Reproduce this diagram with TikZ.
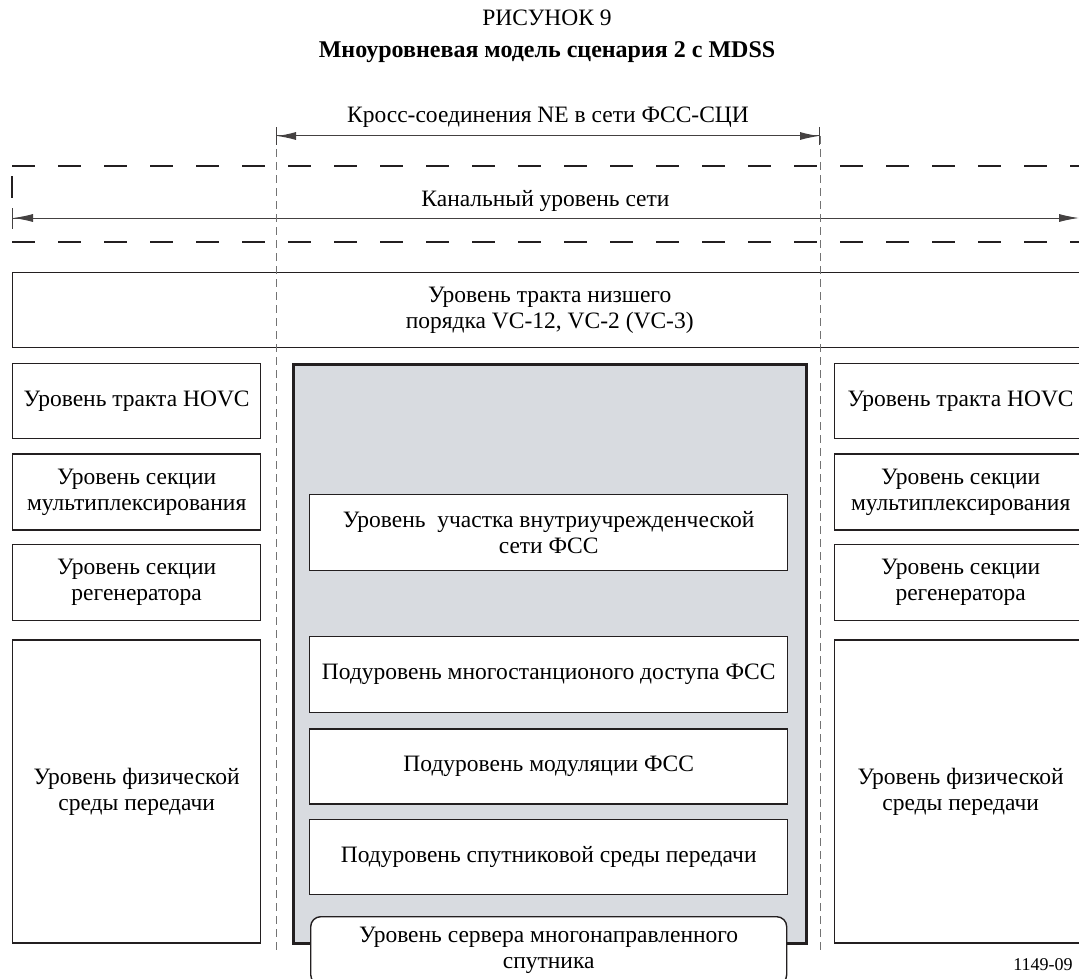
\documentclass[tikz,border=0pt]{standalone}
\usepackage{fontspec}
\setmainfont{Liberation Serif}
\usetikzlibrary{positioning,arrows.meta}
\definecolor{panel}{RGB}{216,219,224}
\definecolor{ink}{RGB}{35,31,32}

\begin{document}
\begin{tikzpicture}[x=1pt,y=-1pt]
		\tikzset{lvl/.style={draw=ink,line width=1.4pt,fill=white,align=center,inner sep=0pt,font=\fontsize{23.5}{26}\selectfont},
			txt/.style={inner sep=0pt,font=\fontsize{23.5}{26}\selectfont},
			com/.style={draw=ink!85,line width=1pt},
			cut/.style={draw=black!55,line width=1pt,dash pattern=on 8pt off 5pt},
			chan/.style={draw=ink,line width=2pt,dash pattern=on 23pt off 23pt}}
		\useasboundingbox (0,0) rectangle (1079,979);

		\node[txt] (fig) at (547,18) {РИСУНОК 9};
		\node[txt,font=\fontsize{24}{26}\selectfont\bfseries] (title) at (547,52) {Мноуровневая модель сценария 2 с MDSS};

		% channel layer
		\coordinate (chtl) at (12,166);
		\coordinate (chtr) at (1090,166);
		\coordinate (chbl) at (12,242);
		\coordinate (chbr) at (1090,242);
		\draw[chan] (chtl) -- (chtr);
		\draw[chan] (chbl) -- (chbr);
		\draw[chan,dash pattern=on 22pt off 80pt,dash phase=92pt] (chtl) -- (chbl);
		\coordinate (chl) at (12,218);
		\coordinate (chr) at (1079,218);
		\draw[com,{Bar[width=21pt]Latex[length=20pt,width=8pt]}-{Latex[length=20pt,width=8pt]}] (chl) -- (chr) node[txt,midway,above=6pt] (chlbl) {Канальный уровень сети};

		% lower order path
		\node[lvl,minimum width=1074pt,minimum height=75pt,anchor=north west] (lo) at (12,272) {Уровень тракта низшего\\порядка VC-12, VC-2 (VC-3)};

		% left side
		\node[lvl,minimum width=248pt,minimum height=75pt,anchor=north west] (hovcL) at (12,363) {Уровень тракта HOVC};
		\node[lvl,minimum width=248pt,minimum height=76pt,below=14pt of hovcL] (muxL) {Уровень секции\\мультиплексирования};
		\node[lvl,minimum width=248pt,minimum height=76pt,below=13pt of muxL] (regL) {Уровень секции\\регенератора};
		\node[lvl,minimum width=248pt,minimum height=303pt,below=18pt of regL] (physL) {Уровень физической\\среды передачи};

		% right side
		\node[lvl,minimum width=252pt,minimum height=75pt,anchor=north west] (hovcR) at (834,363) {Уровень тракта HOVC};
		\node[lvl,minimum width=252pt,minimum height=76pt,below=14pt of hovcR] (muxR) {Уровень секции\\мультиплексирования};
		\node[lvl,minimum width=252pt,minimum height=76pt,below=13pt of muxR] (regR) {Уровень секции\\регенератора};
		\node[lvl,minimum width=252pt,minimum height=303pt,below=18pt of regR] (physR) {Уровень физической\\среды передачи};

		% NE in the FSS-SDH network
		\node[draw=ink,line width=2.5pt,fill=panel,minimum width=513pt,minimum height=579pt,anchor=north west] (ne) at (292,363) {};
		\node[lvl,minimum width=478pt,minimum height=76pt,anchor=north west] (site) at (309,494) {Уровень\ \ участка внутриучрежденческой\\сети ФСС};
		\node[lvl,minimum width=478pt,minimum height=76pt,anchor=north west] (msa) at (309,636) {Подуровень многостанционого доступа ФСС};
		\node[lvl,minimum width=478pt,minimum height=75pt,below=15pt of msa] (mod) {Подуровень модуляции ФСС};
		\node[lvl,minimum width=478pt,minimum height=75pt,below=14pt of mod] (sat) {Подуровень спутниковой среды передачи};
		\node[lvl,rounded corners=10pt,minimum width=476pt,minimum height=68pt,anchor=north west] (srv) at (310,916) {Уровень сервера многонаправленного\\спутника};

		% cross-connection bounds
		\coordinate (cutLt) at (276,136);
		\coordinate (cutLb) at (276,951);
		\coordinate (cutRt) at (820,136);
		\coordinate (cutRb) at (820,951);
		\draw[cut] (cutLt) -- (cutLb);
		\draw[cut] (cutRt) -- (cutRb);
		\draw[com,{Bar[width=18pt]Latex[length=19pt,width=8pt]}-{Latex[length=19pt,width=8pt]Bar[width=18pt]}] (cutLt) -- (cutRt) node[txt,midway,above=8pt] (nelbl) {Кросс-соединения NE в сети ФСС-СЦИ};

		\node[txt,font=\fontsize{18}{20}\selectfont] (code) at (1043,965) {1149-09};
\end{tikzpicture}
\end{document}
